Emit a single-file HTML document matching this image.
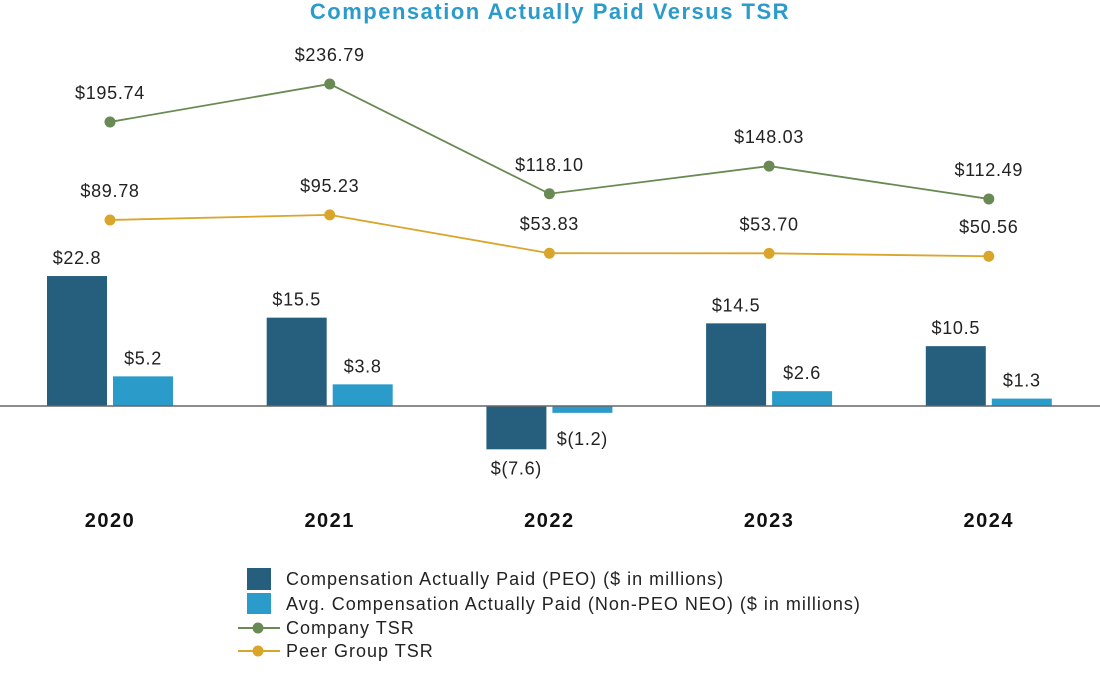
<!DOCTYPE html>
<html><head><meta charset="utf-8"><style>
body{margin:0;background:#fff;font-family:"Liberation Sans",sans-serif;}
svg text{font-family:"Liberation Sans",sans-serif;}
</style></head><body>
<svg id="chart" width="1100" height="672" viewBox="0 0 1100 672" xmlns="http://www.w3.org/2000/svg">
<text x="550" y="19" text-anchor="middle" font-size="22" font-weight="bold" letter-spacing="1.5" fill="#2b9bcb">Compensation Actually Paid Versus TSR</text>
<g id="bars"></g>
<line x1="0" x2="1100" y1="406" y2="406" stroke="#666" stroke-width="1.5"/>
<g id="lines"></g>
<g id="labels"></g>
<g font-size="18" letter-spacing="1" fill="#222">
<rect x="247" y="568" width="24" height="22" fill="#265f7e"/>
<text x="286" y="585">Compensation Actually Paid (PEO) ($ in millions)</text>
<rect x="247" y="593" width="24" height="21" fill="#2b9bca"/>
<text x="286" y="610">Avg. Compensation Actually Paid (Non-PEO NEO) ($ in millions)</text>
<line x1="238" x2="280" y1="628" y2="628" stroke="#6a8a55" stroke-width="2"/>
<circle cx="258" cy="628" r="5.5" fill="#6a8a55"/>
<text x="286" y="634">Company TSR</text>
<line x1="238" x2="280" y1="651" y2="651" stroke="#d9a52a" stroke-width="2"/>
<circle cx="258" cy="651" r="5.5" fill="#d9a52a"/>
<text x="286" y="657">Peer Group TSR</text>
</g>
</svg>
<script>
const years = ["2020","2021","2022","2023","2024"];
const peoCap = [22.8, 15.5, -7.6, 14.5, 10.5];
const peoLabels = ["$22.8","$15.5","$(7.6)","$14.5","$10.5"];
const nonPeoCap = [5.2, 3.8, -1.2, 2.6, 1.3];
const nonPeoLabels = ["$5.2","$3.8","$(1.2)","$2.6","$1.3"];
const companyTsr = [195.74, 236.79, 118.10, 148.03, 112.49];
const peerTsr = [89.78, 95.23, 53.83, 53.70, 50.56];

const NS = "http://www.w3.org/2000/svg";
const xC = i => 110 + i * 219.7;
const yBar = v => 406 - v * 5.7;
const yTsr = v => 303 - v * 0.925;
function mk(tag, attrs, parent, txt){
  const e = document.createElementNS(NS, tag);
  for (const k in attrs) e.setAttribute(k, attrs[k]);
  if (txt !== undefined) e.textContent = txt;
  parent.appendChild(e); return e;
}
const gB = document.getElementById("bars"), gL = document.getElementById("lines"), gT = document.getElementById("labels");
years.forEach((y, i) => {
  const c = xC(i);
  [[peoCap, peoLabels, -63, "#265f7e", "bar-peo-"], [nonPeoCap, nonPeoLabels, 3, "#2b9bca", "bar-non-peo-"]].forEach(([arr, lab, off, col, nm]) => {
    const v = arr[i], top = Math.min(yBar(v), 406), h = Math.abs(yBar(v) - 406);
    const r = mk("rect", {x: c + off, y: top, width: 60, height: h, fill: col}, gB);
    
    
    let tx = c + off + 30, ty = v >= 0 ? top - 12 : top + h + 25;
    if (v < 0 && nm === "bar-non-peo-") { ty = 445; }
    const t = mk("text", {x: tx, y: ty, "text-anchor": "middle", "font-size": 18, "letter-spacing": 0.7, fill: "#222"}, gT, lab[i]);
    
    
  });
  const yl = mk("text", {x: c, y: 527, "text-anchor": "middle", "font-size": 20, "letter-spacing": 1.5, "font-weight": "bold", fill: "#111"}, gT, y);
  
  
});
[[companyTsr, "#6a8a55", "company-tsr"], [peerTsr, "#d9a52a", "peer-tsr"]].forEach(([arr, col, nm]) => {
  const pts = arr.map((v, i) => xC(i) + "," + yTsr(v)).join(" ");
  const pl = mk("polyline", {points: pts, fill: "none", stroke: col, "stroke-width": 1.8}, gL);
  
  
  arr.forEach((v, i) => {
    const p = mk("circle", {cx: xC(i), cy: yTsr(v), r: 5.5, fill: col}, gL);
    
    
    const t = mk("text", {x: xC(i), y: yTsr(v) - 23, "text-anchor": "middle", "font-size": 18, "letter-spacing": 0.7, fill: "#222"}, gT, "$" + v.toFixed(2));
    
    
  });
});
</script>
</body></html>
